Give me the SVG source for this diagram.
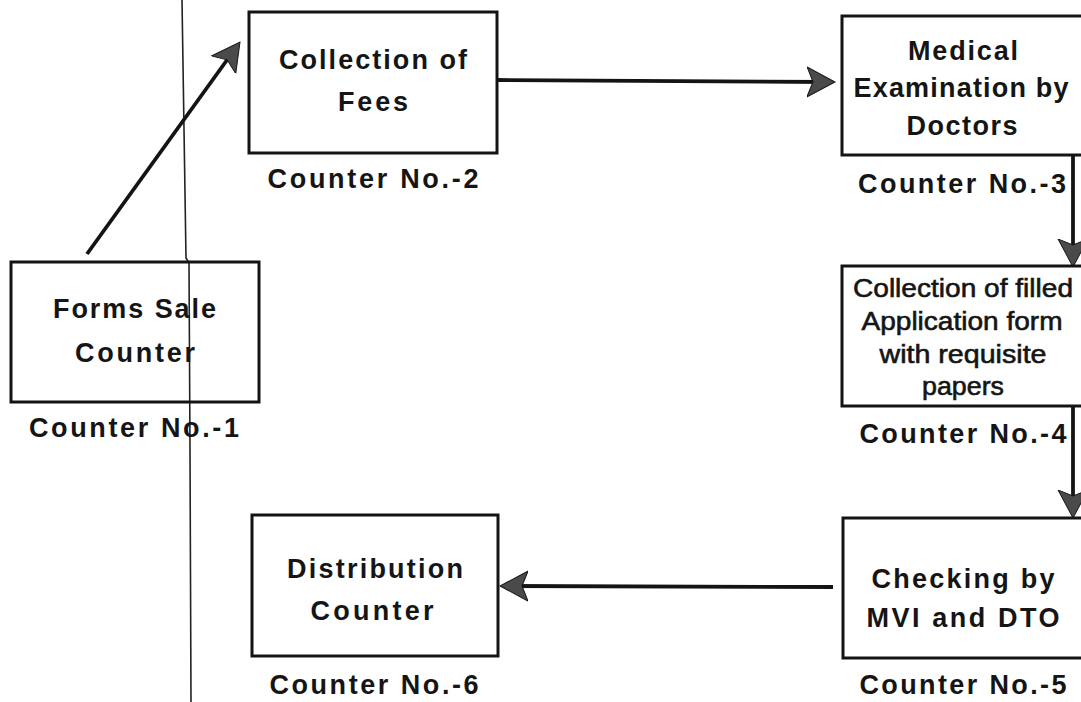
<svg xmlns="http://www.w3.org/2000/svg" width="1081" height="702" viewBox="0 0 1081 702">
<defs>
<style>
.box{fill:none;stroke:#141414;stroke-width:3}
.t{font-family:"Liberation Sans",Arial,sans-serif;font-weight:bold;font-size:27px;fill:#151515;text-anchor:middle}
.s{font-family:"Liberation Sans",Arial,sans-serif;font-weight:normal;font-size:26px;fill:#151515;stroke:#151515;stroke-width:0.6;text-anchor:middle}
.c{fill:none;stroke:#141414;stroke-width:3.8}
</style>
<marker id="ah" markerWidth="30" markerHeight="32" refX="20" refY="16" orient="auto" markerUnits="userSpaceOnUse">
<path d="M0,1 L28,16 L0,31 L6,16 Z" fill="#4a4a4a" stroke="#151515" stroke-width="1"/>
</marker>
</defs>
<rect width="1081" height="702" fill="#ffffff"/>
<polyline points="182,0 186,258 189,263 190,450 191,702" fill="none" stroke="#222" stroke-width="1.6"/>
<g id="connectors">
<line class="c" x1="87" y1="254" x2="235.3" y2="48.5" marker-end="url(#ah)"/>
<line class="c" x1="497" y1="80" x2="827" y2="82" marker-end="url(#ah)"/>
<line class="c" x1="1073" y1="155" x2="1073" y2="259" marker-end="url(#ah)"/>
<line class="c" x1="1073" y1="406" x2="1073" y2="510" marker-end="url(#ah)"/>
<line class="c" x1="833" y1="587" x2="508" y2="586" marker-end="url(#ah)"/>
</g>
<g id="node1">
<rect class="box" x="11" y="262" width="248" height="140"/>
<text class="t" x="134.5" y="318" textLength="163">Forms Sale</text>
<text class="t" x="135" y="362" textLength="120">Counter</text>
<text class="t" x="134" y="437" textLength="210">Counter No.-1</text>
</g>
<g id="node2">
<rect class="box" x="249" y="12" width="248" height="141"/>
<text class="t" x="373" y="69" textLength="188">Collection of</text>
<text class="t" x="373" y="111" textLength="70">Fees</text>
<text class="t" x="373" y="188" textLength="211">Counter No.-2</text>
</g>
<g id="node3">
<rect class="box" x="842" y="16" width="260" height="139"/>
<text class="t" x="963" y="60" textLength="110">Medical</text>
<text class="t" x="961" y="97" textLength="215">Examination by</text>
<text class="t" x="962" y="135" textLength="111">Doctors</text>
<text class="t" x="962" y="193" textLength="208">Counter No.-3</text>
</g>
<g id="node4">
<rect class="box" x="842" y="266" width="260" height="140"/>
<text class="s" x="963" y="297" textLength="220" lengthAdjust="spacingAndGlyphs">Collection of filled</text>
<text class="s" x="962" y="330" textLength="201" lengthAdjust="spacingAndGlyphs">Application form</text>
<text class="s" x="963" y="363" textLength="167" lengthAdjust="spacingAndGlyphs">with requisite</text>
<text class="s" x="963" y="395" textLength="82" lengthAdjust="spacingAndGlyphs">papers</text>
<text class="t" x="963" y="443" textLength="207">Counter No.-4</text>
</g>
<g id="node5">
<rect class="box" x="843" y="518" width="260" height="140"/>
<text class="t" x="963" y="588" textLength="183">Checking by</text>
<text class="t" x="963" y="627" textLength="193">MVI and DTO</text>
<text class="t" x="963" y="694" textLength="207">Counter No.-5</text>
</g>
<g id="node6">
<rect class="box" x="252" y="515" width="246" height="141"/>
<text class="t" x="375" y="578" textLength="176">Distribution</text>
<text class="t" x="372" y="620" textLength="123">Counter</text>
<text class="t" x="374" y="694" textLength="209">Counter No.-6</text>
</g>
</svg>
